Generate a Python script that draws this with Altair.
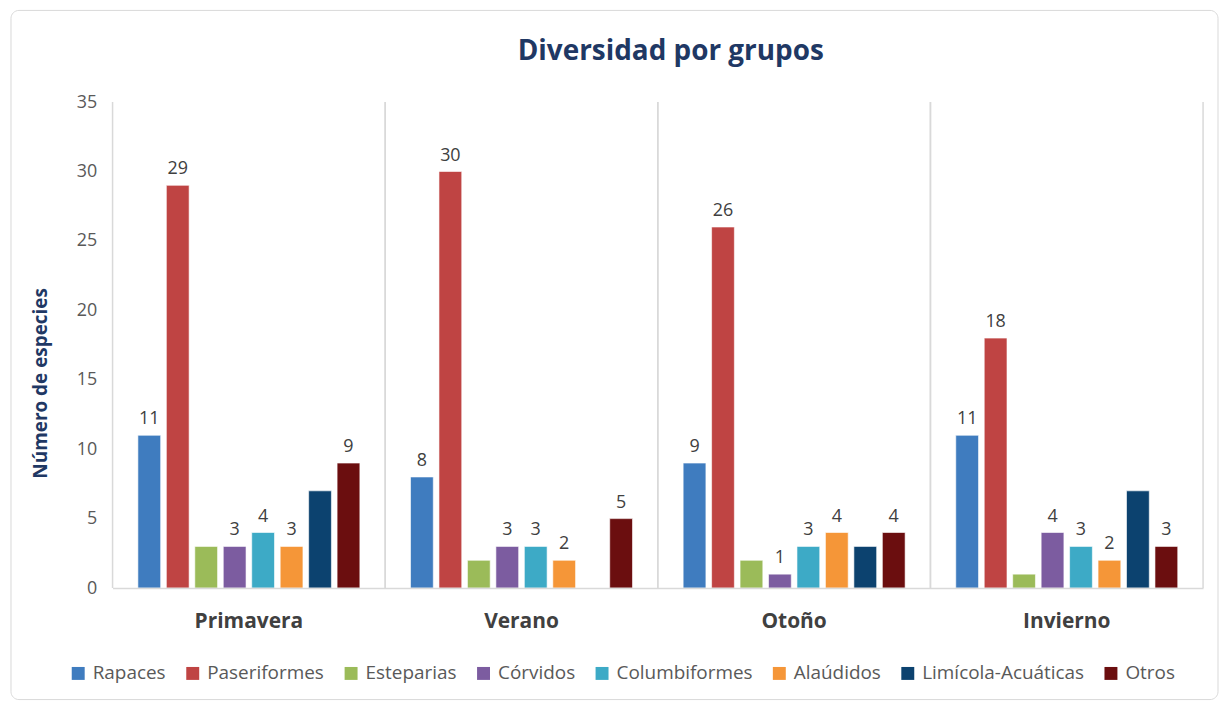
import altair as alt
import pandas as pd

seasons = ["Primavera", "Verano", "Otoño", "Invierno"]
groups = ["Rapaces", "Paseriformes", "Esteparias", "Córvidos",
          "Columbiformes", "Alaúdidos", "Limícola-Acuáticas", "Otros"]
colors = ["#3F7CBF", "#BF4443", "#9BBB59", "#7C5CA0",
          "#3DAAC6", "#F59638", "#0C426F", "#6B0E0F"]

rapaces = [11, 8, 9, 11]
paseriformes = [29, 30, 26, 18]
esteparias = [3, 2, 2, 1]
corvidos = [3, 3, 1, 4]
columbiformes = [4, 3, 3, 3]
alaudidos = [3, 2, 4, 2]
limicola = [7, 0, 3, 7]
otros = [9, 5, 4, 3]
labelled = ["Rapaces", "Paseriformes", "Córvidos", "Columbiformes", "Alaúdidos", "Otros"]

series = [rapaces, paseriformes, esteparias, corvidos,
          columbiformes, alaudidos, limicola, otros]

rows = []
for g, vals in zip(groups, series):
    for s, v in zip(seasons, vals):
        rows.append({"season": s, "group": g, "value": v,
                     "label": str(v) if (g in labelled and v > 0) else ""})
df = pd.DataFrame(rows)
sdf = pd.DataFrame({"season": seasons})

FONT = "Open Sans"
W, H = 1095, 488

xenc = alt.X("season:N", sort=seasons,
             scale=alt.Scale(paddingInner=0, paddingOuter=0),
             axis=alt.Axis(title=None, labelFontSize=21, labelFontWeight="bold",
                           labelColor="#404040", labelFont=FONT, labelPadding=34,
                           labelAlign="center", labelBaseline="middle",
                           ticks=False, domainColor="#D9D9D9", domainWidth=1.5,
                           labelAngle=0, zindex=1))

card = alt.Chart(pd.DataFrame({"a": [0]})).mark_rect(
    cornerRadius=8, fill="white", stroke="#D9D9D9", strokeWidth=1
).encode(x=alt.value(-102), x2=alt.value(1110), y=alt.value(-92), y2=alt.value(600))

sep0 = alt.Chart(sdf).mark_rule(color="#D9D9D9", strokeWidth=1.5).encode(
    x=alt.X("season:N", sort=seasons, bandPosition=0))
sep1 = alt.Chart(sdf).mark_rule(color="#D9D9D9", strokeWidth=1.5).encode(
    x=alt.X("season:N", sort=seasons, bandPosition=1))

bars = alt.Chart(df).mark_bar(stroke="white", strokeWidth=0.6).encode(
    x=xenc,
    xOffset=alt.XOffset("group:N", sort=groups,
                        scale=alt.Scale(paddingInner=0.2, paddingOuter=0.89)),
    y=alt.Y("value:Q", scale=alt.Scale(domain=[0, 35]),
            axis=alt.Axis(values=list(range(0, 36, 5)), title="Número de especies",
                          titleFontSize=19, titleFont=FONT, titleColor="#1F3864",
                          titleFontWeight="bold", titlePadding=26, titleY=282,
                          labelFontSize=18, labelColor="#595959", labelFont=FONT,
                          labelPadding=16, ticks=False, domain=False, grid=False,
                          zindex=1)),
    color=alt.Color("group:N", sort=groups,
                    scale=alt.Scale(domain=groups, range=colors),
                    legend=alt.Legend(title=None, orient="none", legendX=-44, legendY=564,
                                      direction="horizontal", columns=8,
                                      symbolType="square", symbolSize=169,
                                      symbolStrokeWidth=0, labelFontSize=19,
                                      labelFont=FONT, labelColor="#595959",
                                      labelLimit=400,
                                      columnPadding=17, labelOffset=5, zindex=1)),
)

text = alt.Chart(df).mark_text(baseline="bottom", dy=-7, fontSize=18,
                               font=FONT, color="#404040").encode(
    x=alt.X("season:N", sort=seasons),
    xOffset=alt.XOffset("group:N", sort=groups),
    y=alt.Y("value:Q"),
    text="label:N",
)

chart = alt.layer(card, sep0, sep1, bars, text).properties(
    width=W, height=H,
    title=alt.TitleParams("Diversidad por grupos", fontSize=28, fontWeight="bold",
                          color="#1F3864", font=FONT, anchor="middle", dx=13,
                          offset=-56, zindex=1),
    padding={"left": 2, "top": 0, "right": 0, "bottom": 0},
    background="white",
).configure_view(stroke=None)

chart.save("out.html", embed_options={"renderer": "svg", "actions": False})
